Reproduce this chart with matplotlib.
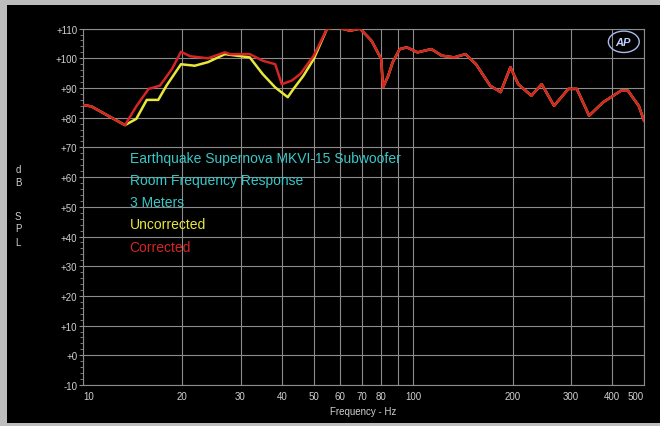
import numpy as np
import matplotlib
matplotlib.use("Agg")
import matplotlib.pyplot as plt
from matplotlib.patches import Rectangle, Ellipse
from matplotlib.ticker import FixedLocator, NullFormatter

plt.rcParams['font.family'] = ['Liberation Sans', 'DejaVu Sans']

# data (Hz, dB SPL)
freq_corr = [10, 10.6, 13.4, 14.5, 15.8, 17.1, 18.6, 19.8, 21.1, 23.9, 26.9, 27.9, 32, 35,
             38.2, 40, 42.9, 45.5, 50, 54.8, 58.7, 64.4, 69, 74.8, 80, 81, 84, 86.7, 91,
             95.6, 103, 113.5, 122, 133, 144, 155, 171, 184, 197, 208, 228, 245, 267, 295,
             313, 341, 376, 426, 447, 482, 500]
db_corr = [84.3, 83.8, 77.5, 83.8, 89.7, 90.8, 96.4, 102.2, 100.7, 100, 102, 101.4, 101.4, 99.2,
           98, 91.3, 92.5, 94.7, 100.9, 109.9, 110.4, 109.3, 110, 105.9, 99.8, 90.2, 94.1, 98.7, 103.1,
           103.7, 102, 103.1, 100.9, 100.3, 101.4, 98, 90.8, 88.6, 97, 91.3, 87.4, 91.3, 84, 89.7,
           89.7, 80.7, 85.2, 89.1, 89.1, 84, 79]

freq_unc = [10, 10.6, 13.4, 14.5, 15.6, 16.9, 17.9, 19.8, 21.8, 23.9, 26.9, 32, 35, 38.2,
            41.7, 43.4, 46.5, 50, 54.8, 58.7, 64.4, 69, 74.8, 80, 81, 84, 86.7, 91,
            95.6, 103, 113.5, 122, 133, 144, 155, 171, 184, 197, 208, 228, 245, 267, 295,
            313, 341, 376, 426, 447, 482, 500]
db_unc = [84.3, 83.8, 77.5, 79.6, 86, 86, 90.8, 98, 97.5, 98.7, 101.4, 100.3, 94.7, 90.2,
          86.9, 89.7, 94.1, 99.8, 109.9, 110.4, 109.3, 110, 105.9, 99.8, 90.2, 94.1, 98.7, 103.1,
          103.7, 102, 103.1, 100.9, 100.3, 101.4, 98, 90.8, 88.6, 97, 91.3, 87.4, 91.3, 84, 89.7,
          89.7, 80.7, 85.2, 89.1, 89.1, 84, 79]

x_ticks = [10, 20, 30, 40, 50, 60, 70, 80, 90, 100, 200, 300, 400, 500]
x_labels = ['10', '20', '30', '40', '50', '60', '70', '80', '', '100', '200', '300', '400', '500']
y_ticks = [-10, 0, 10, 20, 30, 40, 50, 60, 70, 80, 90, 100, 110]
y_labels = ['-10', '+0', '+10', '+20', '+30', '+40', '+50', '+60', '+70', '+80', '+90', '+100', '+110']

title_lines = ['Earthquake Supernova MKVI-15 Subwoofer', 'Room Frequency Response', '3 Meters']

cyan = '#38c8c8'
yellow = '#e8e83a'
red = '#d42424'
grid_c = '#8c8c8c'
txt_c = '#d0d0d0'

fig = plt.figure(figsize=(6.6, 4.27), dpi=100, facecolor='#bdbdbd')
# black panel inside the light frame
fig.patches.append(Rectangle((7 / 660, 3 / 427), 1, 1 - 9 / 427, transform=fig.transFigure,
                             facecolor='black', edgecolor='none', zorder=-10))

ax = fig.add_axes([83 / 660, 41 / 427, 561 / 660, 356.4 / 427])
ax.set_facecolor('black')
ax.set_xscale('log')
ax.set_xlim(10, 500)
ax.set_ylim(-10, 110)

ax.plot(freq_unc, db_unc, color=yellow, lw=1.8, zorder=3)
ax.plot(freq_corr, db_corr, color=red, lw=1.8, zorder=4)

ax.xaxis.set_major_locator(FixedLocator(x_ticks))
ax.xaxis.set_minor_locator(FixedLocator([]))
ax.xaxis.set_minor_formatter(NullFormatter())
ax.set_xticklabels(x_labels)
ax.set_yticks(y_ticks)
ax.set_yticklabels(y_labels)
ax.yaxis.set_minor_locator(FixedLocator(np.arange(-10, 111, 2)))

ax.tick_params(axis='both', which='major', colors=grid_c, labelcolor=txt_c, labelsize=7)
ax.tick_params(axis='x', length=0, pad=4)
ax.tick_params(axis='y', length=3, pad=1)
ax.tick_params(axis='y', which='minor', length=2, color=grid_c)
for lbl in ax.get_xticklabels():
    if lbl.get_text() == '10':
        lbl.set_horizontalalignment('left')
    if lbl.get_text() == '500':
        lbl.set_horizontalalignment('right')

ax.grid(True, which='major', color=grid_c, lw=0.8)
for sp in ax.spines.values():
    sp.set_color(grid_c)
    sp.set_linewidth(0.8)

ax.set_xlabel('Frequency - Hz', color=txt_c, fontsize=7, labelpad=4)

# vertical "dB SPL" label, one letter per row
for ch, yp in zip(['d', 'B', 'S', 'P', 'L'], [170, 183, 217, 229, 243]):
    fig.text(18 / 660, 1 - yp / 427, ch, color=txt_c, fontsize=7, ha='center', va='center')

# annotation block
txt_y0, txt_dy = 0.638, 0.0625
for i, line in enumerate(title_lines):
    ax.text(0.083, txt_y0 - i * txt_dy, line, transform=ax.transAxes, color=cyan,
            fontsize=10, va='center', ha='left')
ax.text(0.083, txt_y0 - 3 * txt_dy, 'Uncorrected', transform=ax.transAxes, color=yellow,
        fontsize=10, va='center', ha='left')
ax.text(0.083, txt_y0 - 4 * txt_dy, 'Corrected', transform=ax.transAxes, color=red,
        fontsize=10, va='center', ha='left')

# AP logo
ax.add_patch(Ellipse((0.964, 0.963), 0.055, 0.06, transform=ax.transAxes,
                     facecolor='none', edgecolor='#a8bcec', lw=1.0, zorder=5))
ax.text(0.962, 0.963, 'AP', transform=ax.transAxes, color='#c0d0ff', fontsize=8,
        fontstyle='italic', fontweight='bold', ha='center', va='center', zorder=6)

fig.savefig('out.png', dpi=100, facecolor=fig.get_facecolor())
